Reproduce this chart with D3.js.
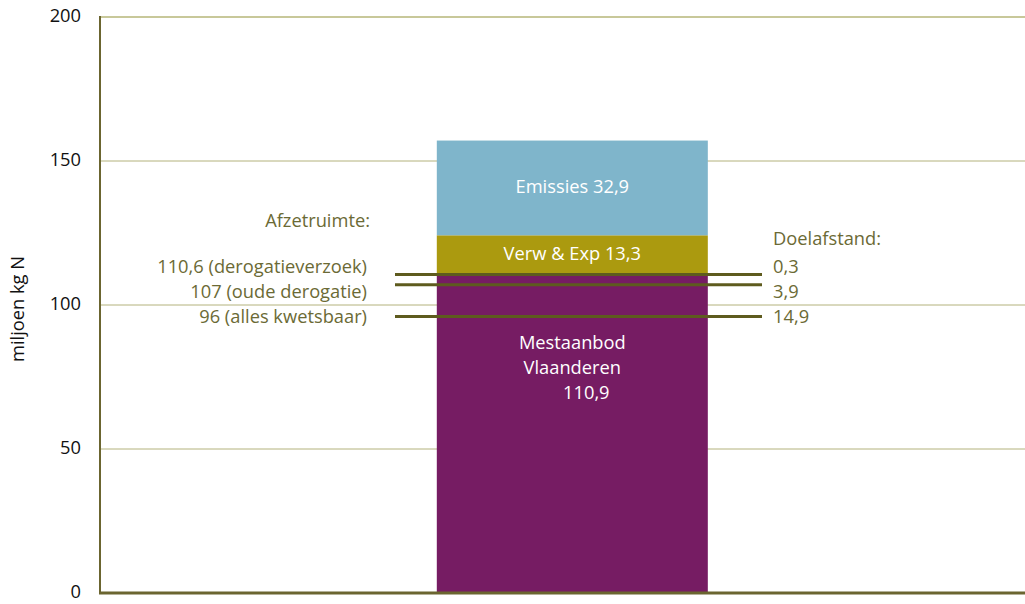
<!DOCTYPE html>
<html>
<head>
<meta charset="utf-8">
<script src="https://cdn.jsdelivr.net/npm/d3@7"></script>
<style>
  html, body { margin: 0; padding: 0; background: #fff; }
  svg { display: block; font-family: "Open Sans", "Noto Sans", sans-serif; }
</style>
</head>
<body>
<svg id="chart" width="1025" height="604"></svg>
<script>
// Stacked supply of nitrogen (miljoen kg N)
const segmentNames = ["Mestaanbod Vlaanderen", "Verw & Exp", "Emissies"];
const segmentValues = [110.9, 13.3, 32.9];
const segmentColors = ["#761c63", "#ab9a0f", "#7fb5cb"];
const segmentLabels = [["Mestaanbod", "Vlaanderen", "110,9"], ["Verw & Exp 13,3"], ["Emissies 32,9"]];

// Reference levels for the available room ("afzetruimte") and distance to target
const refValues = [110.6, 107, 96];
const refLabels = ["110,6 (derogatieverzoek)", "107 (oude derogatie)", "96 (alles kwetsbaar)"];
const gapLabels = ["0,3", "3,9", "14,9"];

const yTicks = [0, 50, 100, 150, 200];

const svg = d3.select("#chart");
const m = { left: 100, right: 1025, top: 17, bottom: 593 };
const fs = 18.3;

const y = d3.scaleLinear().domain([0, 200]).range([m.bottom, m.top]);
const x = d3.scaleBand().domain(["Vlaanderen"]).range([m.left, m.right])
  .paddingInner(0).paddingOuter(1.2066).align(0.515);

const olive = "#6b6a35";
const lineCol = "#5e5b1e";

// gridlines
svg.append("g").selectAll("line").data(yTicks.filter(d => d > 0)).join("line")
  .attr("x1", m.left).attr("x2", m.right)
  .attr("y1", d => y(d)).attr("y2", d => y(d))
  .attr("stroke", d => d === 200 ? "#c8c89a" : "#b3b27c")
  .attr("stroke-width", d => d === 200 ? 2 : 1);

// tick labels
svg.append("g").selectAll("text").data(yTicks).join("text")
  .attr("x", 81).attr("y", d => y(d)).attr("dy", "0.3em")
  .attr("text-anchor", "end").attr("font-size", fs).attr("fill", "#111")
  .text(d => d);

// axis title
svg.append("text")
  .attr("transform", `translate(24,${(m.top + m.bottom) / 2 + 4}) rotate(-90)`)
  .attr("text-anchor", "middle").attr("font-size", fs).attr("fill", "#111")
  .text("miljoen kg N");

// stacked bar
let cum = 0;
const stack = segmentValues.map((v, i) => { const s = { i, y0: cum, y1: cum + v }; cum += v; return s; });
const bx = x("Vlaanderen"), bw = x.bandwidth();

svg.append("g").selectAll("rect").data(stack).join("rect")
  .attr("x", bx).attr("width", bw)
  .attr("y", d => y(d.y1)).attr("height", d => y(d.y0) - y(d.y1))
  .attr("fill", d => segmentColors[d.i]);

// segment labels
const cx = bx + bw / 2;
const labelG = svg.append("g").attr("fill", "#fff").attr("font-size", fs).attr("text-anchor", "middle");
labelG.append("text").attr("x", cx)
  .attr("y", (y(stack[2].y1) + y(stack[2].y0)) / 2).attr("dy", "0.3em")
  .text(segmentLabels[2][0]);
labelG.append("text").attr("x", cx)
  .attr("y", (y(stack[1].y1) + y(stack[1].y0)) / 2).attr("dy", "0.3em")
  .text(segmentLabels[1][0]);
segmentLabels[0].forEach((t, k) => {
  labelG.append("text").attr("x", cx + (k === 2 ? 14 : 0)).attr("y", y(stack[0].y1) + 70 + k * 25)
    .attr("dy", "0.3em").text(t);
});

// reference lines
svg.append("g").selectAll("line").data(refValues).join("line")
  .attr("x1", 395).attr("x2", 762)
  .attr("y1", d => y(d)).attr("y2", d => y(d))
  .attr("stroke", lineCol).attr("stroke-width", 3);

// left labels
const lab = svg.append("g").attr("fill", olive).attr("font-size", fs);
lab.append("text").attr("x", 370).attr("y", 222).attr("dy", "0.3em").attr("text-anchor", "end").text("Afzetruimte:");
lab.selectAll("text.ref").data(refLabels).join("text").attr("class", "ref")
  .attr("x", 367).attr("y", (d, i) => 268 + i * 25).attr("dy", "0.3em")
  .attr("text-anchor", "end").text(d => d);

// right labels
lab.append("text").attr("x", 773).attr("y", 240).attr("dy", "0.3em").text("Doelafstand:");
lab.selectAll("text.gap").data(gapLabels).join("text").attr("class", "gap")
  .attr("x", 773).attr("y", (d, i) => 268 + i * 25).attr("dy", "0.3em").text(d => d);

// axis lines
svg.append("line").attr("x1", m.left).attr("x2", m.left).attr("y1", m.top - 1).attr("y2", m.bottom + 1)
  .attr("stroke", "#6b6530").attr("stroke-width", 2);
svg.append("line").attr("x1", m.left - 1).attr("x2", m.right).attr("y1", m.bottom).attr("y2", m.bottom)
  .attr("stroke", "#6b6530").attr("stroke-width", 3);
</script>
</body>
</html>
